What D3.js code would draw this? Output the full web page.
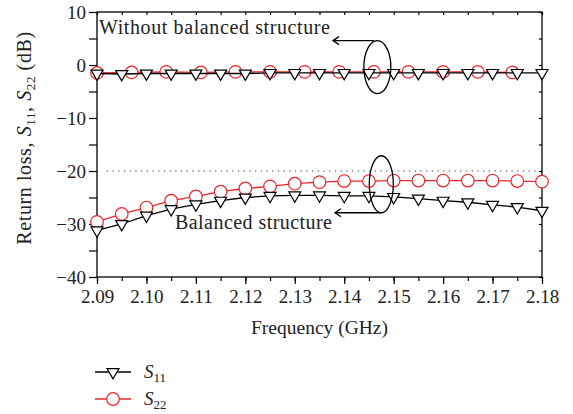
<!DOCTYPE html>
<html><head><meta charset="utf-8">
<script src="https://cdn.jsdelivr.net/npm/d3@7"></script>
<style>
body{margin:0;background:#fff;}
</style></head>
<body><svg id="c" width="573" height="414"></svg>
<script>
// ---- data ----
const freq = [2.090,2.095,2.100,2.105,2.110,2.115,2.120,2.125,2.130,2.135,2.140,2.145,2.150,2.155,2.160,2.165,2.170,2.175,2.180];
const s11Balanced = [-31.2,-30.0,-28.4,-27.2,-26.3,-25.6,-25.0,-24.7,-24.6,-24.6,-24.7,-24.7,-24.9,-25.2,-25.6,-25.9,-26.4,-26.8,-27.5];
const s22Balanced = [-29.6,-28.1,-26.9,-25.6,-24.8,-23.9,-23.3,-22.9,-22.4,-22.1,-21.9,-21.9,-21.8,-21.8,-21.8,-21.8,-21.8,-21.9,-22.0];
const s11Without = [-1.6,-1.7,-1.6,-1.6,-1.6,-1.6,-1.6,-1.5,-1.5,-1.5,-1.5,-1.5,-1.5,-1.5,-1.5,-1.5,-1.5,-1.5,-1.5];
const freqS22Without = [2.090,2.097,2.104,2.111,2.118,2.125,2.132,2.139,2.146,2.153,2.160,2.167,2.174];
const s22Without = [-1.5,-1.4,-1.3,-1.4,-1.3,-1.3,-1.3,-1.3,-1.3,-1.3,-1.3,-1.3,-1.4];
const xTicks = [2.09,2.10,2.11,2.12,2.13,2.14,2.15,2.16,2.17,2.18];
const yTicks = [10,0,-10,-20,-30,-40];
const refLevel = -20;

const FONT = "Liberation Serif";
const svg = d3.select("#c");
const L=97,R=542,T=12,B=277;
const x = d3.scaleLinear().domain([2.09,2.18]).range([L,R]);
const y = d3.scaleLinear().domain([-40,10]).range([B,T]);
const red = "#e8262a";

// frame
svg.append("rect").attr("x",L).attr("y",T).attr("width",R-L).attr("height",B-T)
  .attr("fill","none").attr("stroke","#000").attr("stroke-width",1.3);

const xMinor = d3.range(2.09,2.1801,0.005);
const yMinor = d3.range(-40,10.01,5);
const fmtX = d3.format(".2f");
const fmtY = d=> d<0 ? "\u2212"+Math.abs(d) : String(d);

// bottom axis
const bx = svg.append("g").attr("transform",`translate(0,${B})`);
bx.call(d3.axisBottom(x).tickValues(xMinor).tickSize(4).tickFormat(""));
bx.select(".domain").remove();
const bx2 = svg.append("g").attr("transform",`translate(0,${B})`);
bx2.call(d3.axisBottom(x).tickValues(xTicks).tickSize(7).tickPadding(6).tickFormat(fmtX));
bx2.select(".domain").remove();
// top ticks (inward)
const tx = svg.append("g").attr("transform",`translate(0,${T})`);
tx.call(d3.axisBottom(x).tickValues(xMinor).tickSize(3).tickFormat(""));
tx.select(".domain").remove();
// left axis
const ly = svg.append("g").attr("transform",`translate(${L},0)`);
ly.call(d3.axisLeft(y).tickValues(yMinor).tickSize(8).tickPadding(3).tickFormat(d=> yTicks.includes(d)?fmtY(d):""));
ly.select(".domain").remove();
// right ticks inward
const ry = svg.append("g").attr("transform",`translate(${R},0)`);
ry.call(d3.axisLeft(y).tickValues(yMinor).tickSize(3).tickFormat(""));
ry.select(".domain").remove();
svg.selectAll(".tick line").attr("stroke","#000").attr("stroke-width",1.2);
svg.selectAll("g").attr("font-family",FONT).attr("font-size",19);
svg.selectAll(".tick text").attr("fill","#222").attr("font-family",FONT);

// reference dotted line
svg.append("line").attr("x1",x(2.092)).attr("x2",x(2.179)).attr("y1",y(refLevel)).attr("y2",y(refLevel))
  .attr("stroke","#333").attr("stroke-width",1.2).attr("stroke-dasharray","1.2,4.5");

const line = d3.line().x(d=>x(d[0])).y(d=>y(d[1]));
const tri = d3.symbol().type(d3.symbolTriangle).size(62);

function drawCircles(fx, vals){
  svg.append("path").datum(fx.map((f,i)=>[f,vals[i]])).attr("d",line)
    .attr("fill","none").attr("stroke",red).attr("stroke-width",1.3);
  svg.append("g").selectAll("circle").data(fx.map((f,i)=>[f,vals[i]])).join("circle")
    .attr("cx",d=>x(d[0])).attr("cy",d=>y(d[1])).attr("r",6.3)
    .attr("fill","#fff").attr("stroke",red).attr("stroke-width",1.2);
}
function drawTri(fx, vals){
  svg.append("path").datum(fx.map((f,i)=>[f,vals[i]])).attr("d",line)
    .attr("fill","none").attr("stroke","#000").attr("stroke-width",1.3);
  svg.append("g").selectAll("path").data(fx.map((f,i)=>[f,vals[i]])).join("path")
    .attr("d",tri).attr("transform",d=>`translate(${x(d[0])},${y(d[1])}) rotate(180)`)
    .attr("fill","#fff").attr("stroke","#000").attr("stroke-width",1.2);
}
drawCircles(freqS22Without, s22Without);
drawTri(freq, s11Without);
drawCircles(freq, s22Balanced);
drawTri(freq, s11Balanced);

function txt(xx,yy,size){
  return svg.append("text").attr("x",xx).attr("y",yy).attr("font-family",FONT).attr("font-size",size).attr("fill","#222");
}
// annotations
function ellipse(cx,cy,rx,ry){
  svg.append("ellipse").attr("cx",cx).attr("cy",cy).attr("rx",rx).attr("ry",ry)
    .attr("fill","none").attr("stroke","#000").attr("stroke-width",1.3);
}
function arrow(x1,x2,yy){
  svg.append("line").attr("x1",x1).attr("x2",x2).attr("y1",yy).attr("y2",yy).attr("stroke","#000").attr("stroke-width",1.3);
  svg.append("path").attr("d",`M${x2+6},${yy-4} L${x2},${yy} L${x2+6},${yy+4}`).attr("fill","none").attr("stroke","#000").attr("stroke-width",1.3);
}
ellipse(x(2.1467),y(-0.4),13.5,26.5);
arrow(x(2.146),333,y(-0.4)-26.5);
txt(99,34,20).attr("textLength",231).attr("lengthAdjust","spacing").text("Without balanced structure");
ellipse(x(2.1475),y(-22.5),12,28.5);
arrow(x(2.1475),335,y(-22.5)+28.5);
txt(175,229,20).attr("textLength",157).attr("lengthAdjust","spacing").text("Balanced structure");

// axis titles
txt((L+R)/2,334,19.5).attr("text-anchor","middle").text("Frequency (GHz)");
const yt = txt(0,0,20).attr("transform",`translate(31,138) rotate(-90)`).attr("text-anchor","middle").attr("letter-spacing",0.6);
yt.append("tspan").text("Return loss, ");
yt.append("tspan").attr("font-style","italic").text("S");
yt.append("tspan").attr("dy",4).attr("font-size",13).text("11");
yt.append("tspan").attr("dy",-4).text(", ");
yt.append("tspan").attr("font-style","italic").text("S");
yt.append("tspan").attr("dy",4).attr("font-size",13).text("22");
yt.append("tspan").attr("dy",-4).text(" (dB)");

// legend
const leg = [{name:"11",color:"#000",sym:"tri",y:372},{name:"22",color:red,sym:"circ",y:399}];
leg.forEach(l=>{
  svg.append("line").attr("x1",95).attr("x2",131).attr("y1",l.y).attr("y2",l.y).attr("stroke",l.color).attr("stroke-width",1.3);
  if(l.sym==="tri") svg.append("path").attr("d",tri).attr("transform",`translate(113,${l.y}) rotate(180)`).attr("fill","#fff").attr("stroke","#000").attr("stroke-width",1.2);
  else svg.append("circle").attr("cx",113).attr("cy",l.y).attr("r",6.3).attr("fill","#fff").attr("stroke",red).attr("stroke-width",1.2);
  const t = txt(144,l.y+6,19);
  t.append("tspan").attr("font-style","italic").text("S");
  t.append("tspan").attr("dy",4).attr("font-size",13).text(l.name);
});
</script></body></html>
